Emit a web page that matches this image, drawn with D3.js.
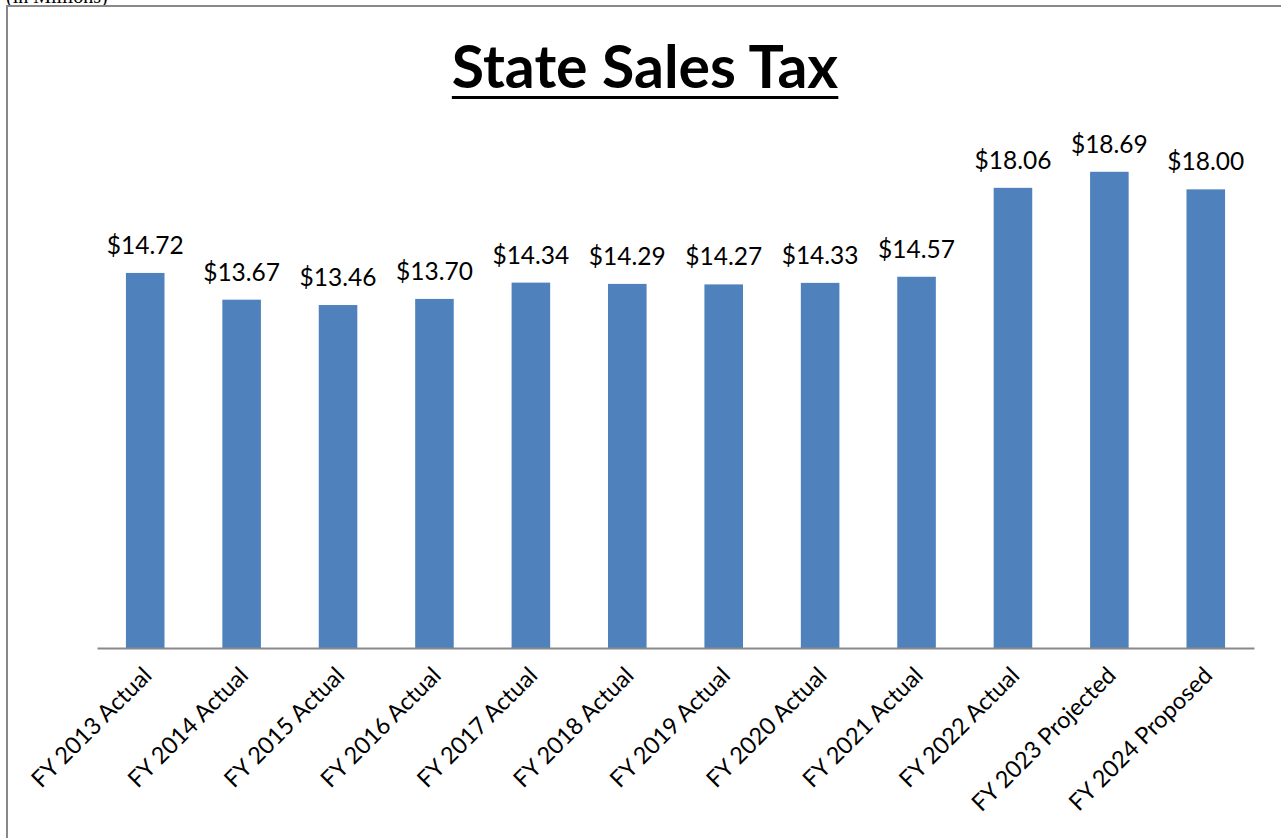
<!DOCTYPE html>
<html>
<head>
<meta charset="utf-8">
<script src="https://cdn.jsdelivr.net/npm/d3@7"></script>
<style>
  body { margin: 0; background: #fff; }
  svg { display: block; }
</style>
</head>
<body>
<script>
const categories = ["FY 2013 Actual", "FY 2014 Actual", "FY 2015 Actual", "FY 2016 Actual",
  "FY 2017 Actual", "FY 2018 Actual", "FY 2019 Actual", "FY 2020 Actual", "FY 2021 Actual",
  "FY 2022 Actual", "FY 2023 Projected", "FY 2024 Proposed"];
const values = [14.72, 13.67, 13.46, 13.70, 14.34, 14.29, 14.27, 14.33, 14.57, 18.06, 18.69, 18.00];
const titleText = "State Sales Tax";
const unitText = "(in Millions)";

const W = 1281, H = 838;
const svg = d3.select("body").append("svg").attr("width", W).attr("height", H);
const font = "Lato, 'Open Sans', sans-serif";

// caption above the frame, mostly off the top edge as in the original
svg.append("text")
  .attr("x", 6).attr("y", 3)
  .attr("font-family", "'Liberation Serif', serif")
  .attr("font-size", 20)
  .attr("fill", "#000")
  .text(unitText);

// chart frame
svg.append("rect")
  .attr("x", 7).attr("y", 6)
  .attr("width", W + 20).attr("height", H + 20)
  .attr("fill", "#fff")
  .attr("stroke", "#898989").attr("stroke-width", 2);

// title with underline
const title = svg.append("text")
  .attr("x", 645).attr("y", 88)
  .attr("text-anchor", "middle")
  .attr("font-family", font)
  .attr("font-weight", "bold")
  .attr("font-size", 59)
  .attr("fill", "#000")
  .text(titleText);
const tb = title.node().getBBox();
svg.append("line")
  .attr("x1", tb.x).attr("x2", tb.x + tb.width)
  .attr("y1", 97.5).attr("y2", 97.5)
  .attr("stroke", "#000").attr("stroke-width", 3);

const xScale = d3.scaleBand()
  .domain(categories)
  .range([97, 1254])
  .paddingInner(0.6).paddingOuter(0.3);

const yScale = d3.scaleLinear()
  .domain([0, 20])
  .range([648, 138.4]);

svg.selectAll("rect.bar")
  .data(values)
  .enter()
  .append("rect")
  .attr("class", "bar")
  .attr("x", (d, i) => xScale(categories[i]))
  .attr("y", d => yScale(d))
  .attr("width", xScale.bandwidth())
  .attr("height", d => yScale(0) - yScale(d))
  .attr("fill", "#4F81BD");

svg.selectAll("text.val")
  .data(values)
  .enter()
  .append("text")
  .attr("class", "val")
  .attr("x", (d, i) => xScale(categories[i]) + xScale.bandwidth() / 2)
  .attr("y", d => yScale(d) - 19)
  .attr("text-anchor", "middle")
  .attr("font-family", font)
  .attr("font-size", 24.5)
  .attr("fill", "#000")
  .text(d => "$" + d.toFixed(2));

// x axis
const xAxis = svg.append("g")
  .attr("transform", "translate(0,648)")
  .call(d3.axisBottom(xScale).tickSize(0).tickPadding(0));
xAxis.select(".domain").attr("stroke", "#898989").attr("stroke-width", 2);
xAxis.selectAll("text")
  .attr("font-family", font)
  .attr("font-size", 23.5)
  .attr("fill", "#000")
  .attr("text-anchor", "end")
  .attr("dy", null)
  .attr("transform", "translate(8,29) rotate(-45)");
</script>
</body>
</html>
